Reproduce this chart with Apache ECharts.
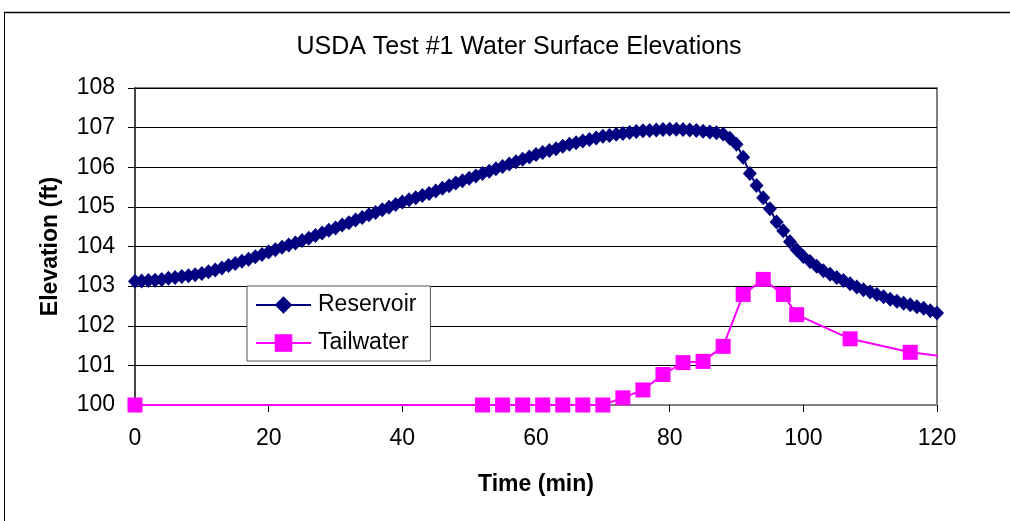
<!DOCTYPE html>
<html>
<head>
<meta charset="utf-8">
<script src="https://cdn.jsdelivr.net/npm/echarts@6/dist/echarts.min.js"></script>
<style>
html,body{margin:0;padding:0;background:#fff;}
#chart{width:1010px;height:521px;}
</style>
</head>
<body>
<div id="chart"></div>
<script>
var titleText = 'USDA Test #1 Water Surface Elevations';
var xAxisName = 'Time (min)';
var yAxisName = 'Elevation (ft)';
var seriesNames = ['Reservoir', 'Tailwater'];

// Reservoir: one reading per minute, 0..120
var reservoirTime = [];
for (var i = 0; i <= 120; i++) reservoirTime.push(i);
var reservoirElev = [
  103.12, 103.13, 103.14, 103.15, 103.17, 103.20, 103.22, 103.24, 103.26, 103.29, 103.32,
  103.36, 103.41, 103.46, 103.52, 103.57, 103.63, 103.68, 103.74, 103.80, 103.86,
  103.92, 103.98, 104.04, 104.09, 104.15, 104.21, 104.28, 104.34, 104.41, 104.47,
  104.54, 104.60, 104.67, 104.73, 104.80, 104.86, 104.93, 104.99, 105.06, 105.12,
  105.18, 105.23, 105.29, 105.34, 105.40, 105.47, 105.53, 105.60, 105.66, 105.72,
  105.78, 105.84, 105.90, 105.96, 106.02, 106.08, 106.14, 106.20, 106.26, 106.32,
  106.37, 106.42, 106.47, 106.53, 106.58, 106.62, 106.66, 106.70, 106.74, 106.78,
  106.80, 106.83, 106.85, 106.88, 106.90, 106.92, 106.93, 106.94, 106.95, 106.96,
  106.96, 106.95, 106.94, 106.93, 106.91, 106.89, 106.87, 106.84,
  106.73, 106.58, 106.25, 105.84, 105.54, 105.23, 104.95, 104.62, 104.40, 104.12, 103.92, 103.75,
  103.62, 103.50, 103.39, 103.30, 103.22, 103.14, 103.06, 102.98, 102.91, 102.85,
  102.79, 102.73, 102.67, 102.62, 102.57, 102.53, 102.48, 102.44, 102.38, 102.32
];

// Tailwater readings (last entry: where the line leaves the plot, no marker)
var tailTime = [0, 52, 55, 58, 61, 64, 67, 70, 73, 76, 79, 82, 85, 88, 91, 94, 97, 99, 107, 116, 121.2];
var tailElev = [100.0, 100.0, 100.0, 100.0, 100.0, 100.0, 100.0, 100.0, 100.18, 100.38, 100.77, 101.07, 101.10, 101.48, 102.79, 103.17, 102.79, 102.28, 101.67, 101.33, 101.22];
var tailSymbolShown = [true, true, true, true, true, true, true, true, true, true, true, true, true, true, true, true, true, true, true, true, false];

function pairs(xs, ys) { return xs.map(function (x, i) { return [x, ys[i]]; }); }

var tailData = tailTime.map(function (t, i) {
  var d = { value: [t, tailElev[i]] };
  if (!tailSymbolShown[i]) d.symbolSize = 0;
  return d;
});

var chart = echarts.init(document.getElementById('chart'), null, { renderer: 'canvas' });
var font = "Arial, 'Liberation Sans', sans-serif";

chart.setOption({
  animation: false,
  backgroundColor: '#ffffff',
  title: {
    text: titleText,
    left: 514,
    top: 30,
    textAlign: 'center',
    textStyle: { fontFamily: font, fontSize: 25, fontWeight: 'normal', color: '#000' }
  },
  grid: { left: 135, right: 73, top: 88, bottom: 116, show: true, borderColor: '#808080', borderWidth: 2, backgroundColor: 'transparent' },
  legend: {
    orient: 'vertical',
    left: 247,
    top: 286,
    data: seriesNames,
    itemWidth: 55,
    itemHeight: 22,
    itemGap: 12,
    padding: [6, 14, 5, 8],
    borderColor: '#555',
    borderWidth: 1,
    backgroundColor: '#fff',
    textStyle: { fontFamily: font, fontSize: 23, color: '#000', lineHeight: 26, padding: [0, 0, 0, 2] }
  },
  xAxis: {
    type: 'value',
    min: 0, max: 120, interval: 20,
    name: xAxisName,
    nameLocation: 'middle',
    nameGap: 68,
    nameTextStyle: { fontFamily: font, fontSize: 23, fontWeight: 'bold', color: '#000' },
    axisLine: { show: true, onZero: false, lineStyle: { color: '#808080', width: 2 } },
    axisTick: { show: true, length: 7, lineStyle: { color: '#000', width: 1 } },
    axisLabel: { fontFamily: font, fontSize: 23, color: '#000', margin: 22 },
    splitLine: { show: false }
  },
  yAxis: {
    type: 'value',
    min: 100, max: 108, interval: 1,
    name: yAxisName,
    nameLocation: 'middle',
    nameGap: 73,
    nameTextStyle: { fontFamily: font, fontSize: 23, fontWeight: 'bold', color: '#000' },
    axisLine: { show: true, lineStyle: { color: '#333', width: 1.5 } },
    axisTick: { show: true, length: 7, lineStyle: { color: '#000', width: 1 } },
    axisLabel: { fontFamily: font, fontSize: 23, color: '#000', margin: 20 },
    splitLine: { show: true, lineStyle: { color: '#000', width: 1 } }
  },
  series: [
    {
      name: seriesNames[0],
      type: 'line',
      data: pairs(reservoirTime, reservoirElev),
      symbol: 'diamond',
      symbolSize: [14, 15],
      showAllSymbol: true,
      clip: false,
      lineStyle: { color: '#000080', width: 2 },
      itemStyle: { color: '#000080', borderWidth: 0 },
      z: 3
    },
    {
      name: seriesNames[1],
      type: 'line',
      data: tailData,
      symbol: 'rect',
      symbolSize: 15,
      showAllSymbol: true,
      clip: false,
      lineStyle: { color: '#ff00ff', width: 2 },
      itemStyle: { color: '#ff00ff', borderWidth: 0 },
      z: 2
    }
  ],
  graphic: [
    { type: 'line', shape: { x1: 4.5, y1: 12, x2: 4.5, y2: 521 }, style: { stroke: '#000', lineWidth: 1 }, z: 100 },
    { type: 'line', shape: { x1: 4, y1: 12.5, x2: 1010, y2: 12.5 }, style: { stroke: '#000', lineWidth: 1.5 }, z: 100 }
  ]
});
</script>
</body>
</html>
